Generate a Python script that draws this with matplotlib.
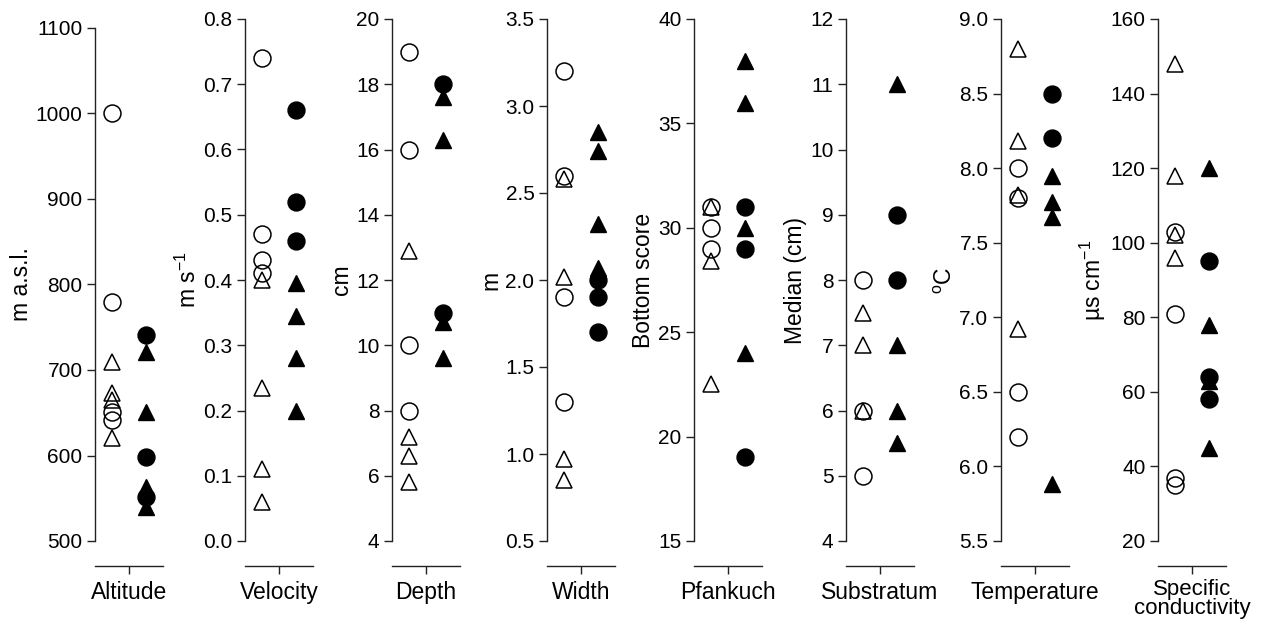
import matplotlib
matplotlib.use("Agg")
import matplotlib.pyplot as plt
import numpy as np

plt.rcParams['font.family'] = ['Liberation Sans', 'DejaVu Sans']
plt.rcParams['mathtext.fontset'] = 'custom'
plt.rcParams['mathtext.rm'] = 'Liberation Sans'
plt.rcParams['mathtext.it'] = 'Liberation Sans:italic'

# open = left group, filled = right group; circ / tri = marker type
alt_open_circ = [1000, 780, 651, 642]
alt_open_tri = [709, 673, 665, 620]
alt_fill_circ = [741, 598, 551]
alt_fill_tri = [721, 651, 563, 540]

vel_open_circ = [0.74, 0.47, 0.43, 0.41]
vel_open_tri = [0.40, 0.235, 0.11, 0.06]
vel_fill_circ = [0.66, 0.52, 0.46]
vel_fill_tri = [0.395, 0.345, 0.28, 0.20]

dep_open_circ = [19, 16, 10, 8]
dep_open_tri = [12.9, 7.2, 6.6, 5.8]
dep_fill_circ = [18, 11]
dep_fill_tri = [17.6, 16.3, 10.7, 9.6]

wid_open_circ = [3.2, 2.6, 1.9, 1.3]
wid_open_tri = [2.58, 2.02, 0.97, 0.85]
wid_fill_circ = [2.0, 1.9, 1.7]
wid_fill_tri = [2.85, 2.74, 2.32, 2.07]

pfa_open_circ = [31, 30, 29]
pfa_open_tri = [31, 28.4, 22.5]
pfa_fill_circ = [31, 29, 19]
pfa_fill_tri = [38, 36, 30, 24]

sub_open_circ = [8, 6, 5]
sub_open_tri = [7.5, 7, 6]
sub_fill_circ = [9, 8]
sub_fill_tri = [11, 7, 6, 5.5]

tem_open_circ = [8.0, 7.8, 6.5, 6.2]
tem_open_tri = [8.8, 8.18, 7.82, 6.92]
tem_fill_circ = [8.5, 8.2]
tem_fill_tri = [7.95, 7.77, 7.67, 5.88]

con_open_circ = [103, 81, 37, 35]
con_open_tri = [148, 118, 102, 96]
con_fill_circ = [95, 64, 58]
con_fill_tri = [120, 78, 63, 45]

names = ['Altitude', 'Velocity', 'Depth', 'Width', 'Pfankuch', 'Substratum',
         'Temperature', 'Specific\nconductivity']
units = ['m a.s.l.', r'm s$^{-1}$', 'cm', 'm', 'Bottom score', 'Median (cm)',
         r'$^{\rm o}$C', r'µs cm$^{-1}$']
yticks = [np.arange(500, 1101, 100), np.arange(0, 0.81, 0.1), np.arange(4, 21, 2),
          np.arange(0.5, 3.51, 0.5), np.arange(15, 41, 5), np.arange(4, 13, 1),
          np.arange(5.5, 9.01, 0.5), np.arange(20, 161, 20)]
fmts = ['%d', '%.1f', '%d', '%.1f', '%d', '%d', '%.1f', '%d']

groups = [
    (alt_open_circ, alt_open_tri, alt_fill_circ, alt_fill_tri),
    (vel_open_circ, vel_open_tri, vel_fill_circ, vel_fill_tri),
    (dep_open_circ, dep_open_tri, dep_fill_circ, dep_fill_tri),
    (wid_open_circ, wid_open_tri, wid_fill_circ, wid_fill_tri),
    (pfa_open_circ, pfa_open_tri, pfa_fill_circ, pfa_fill_tri),
    (sub_open_circ, sub_open_tri, sub_fill_circ, sub_fill_tri),
    (tem_open_circ, tem_open_tri, tem_fill_circ, tem_fill_tri),
    (con_open_circ, con_open_tri, con_fill_circ, con_fill_tri),
]

W, H = 1268, 621
fig = plt.figure(figsize=(W / 100, H / 100), dpi=100)

lefts = [95, 245, 392, 547, 694, 846, 1001, 1158]
tops = [28, 19, 19, 19, 19, 19, 19, 19]
bottom = 541
aw = 68

for i in range(8):
    ax = fig.add_axes([lefts[i] / W, (H - bottom) / H, aw / W, (bottom - tops[i]) / H])
    oc, ot, fc, ft = groups[i]
    ms = 12.2
    ax.plot([1] * len(oc), oc, 'o', ms=ms, mfc='none', mec='black', mew=1.1, clip_on=False)
    ax.plot([1] * len(ot), ot, '^', ms=ms, mfc='none', mec='black', mew=1.1, clip_on=False)
    ax.plot([2] * len(fc), fc, 'o', ms=ms, mfc='black', mec='black', clip_on=False)
    ax.plot([2] * len(ft), ft, '^', ms=ms, mfc='black', mec='black', clip_on=False)

    ax.set_xlim(0.5, 2.5)
    ax.set_ylim(yticks[i][0], yticks[i][-1])
    ax.set_yticks(yticks[i])
    ax.set_yticklabels([fmts[i] % v for v in yticks[i]])
    ax.set_xticks([1.5])
    ax.set_xticklabels([])
    if '\n' in names[i]:
        ax.set_xlabel(names[i], fontsize=16, labelpad=0, linespacing=0.85)
    else:
        ax.set_xlabel(names[i], fontsize=16.5, labelpad=1)
    ax.set_ylabel(units[i], fontsize=16.5, labelpad=2)

    ax.spines['top'].set_visible(False)
    ax.spines['right'].set_visible(False)
    ax.spines['bottom'].set_position(('outward', 18))
    for s in ['left', 'bottom']:
        ax.spines[s].set_linewidth(1.0)
        ax.spines[s].set_color('#222222')
    ax.tick_params(axis='y', direction='out', length=6, width=1.0, labelsize=15, pad=3,
                   colors='#222222', labelcolor='black')
    ax.tick_params(axis='x', direction='out', length=6, width=1.0, colors='#222222')
    ax.patch.set_visible(False)

fig.savefig('out.png', dpi=100)
